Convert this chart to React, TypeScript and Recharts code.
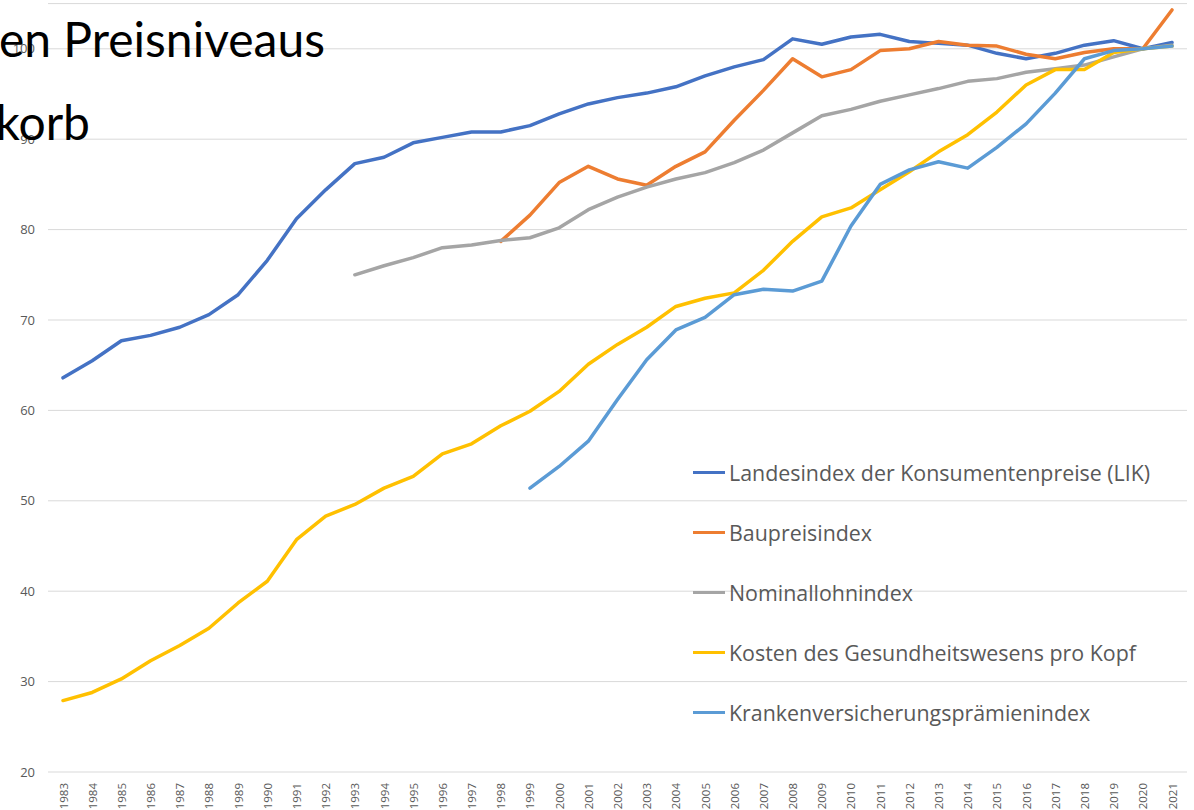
import { LineChart, Line, XAxis, YAxis, CartesianGrid, Legend } from "recharts";

const years = [
  "1983", "1984", "1985", "1986", "1987", "1988", "1989", "1990", "1991", "1992",
  "1993", "1994", "1995", "1996", "1997", "1998", "1999", "2000", "2001", "2002",
  "2003", "2004", "2005", "2006", "2007", "2008", "2009", "2010", "2011", "2012",
  "2013", "2014", "2015", "2016", "2017", "2018", "2019", "2020", "2021",
];

const lik = [
  63.6, 65.5, 67.7, 68.3, 69.2, 70.6, 72.8, 76.6, 81.2, 84.4,
  87.3, 88.0, 89.6, 90.2, 90.8, 90.8, 91.5, 92.8, 93.9, 94.6,
  95.1, 95.8, 97.0, 98.0, 98.8, 101.1, 100.5, 101.3, 101.6, 100.8,
  100.6, 100.4, 99.5, 98.9, 99.5, 100.4, 100.9, 100.0, 100.7,
];

// starts 1998
const baupreis = [
  null, null, null, null, null, null, null, null, null, null,
  null, null, null, null, null, 78.7, 81.6, 85.2, 87.0, 85.6,
  84.9, 87.0, 88.6, 92.1, 95.4, 98.9, 96.9, 97.7, 99.8, 100.0,
  100.8, 100.4, 100.3, 99.4, 98.9, 99.6, 100.0, 100.0, 104.3,
];

// starts 1993
const nominallohn = [
  null, null, null, null, null, null, null, null, null, null,
  75.0, 76.0, 76.9, 78.0, 78.3, 78.8, 79.1, 80.2, 82.2, 83.6,
  84.7, 85.6, 86.3, 87.4, 88.8, 90.7, 92.6, 93.3, 94.2, 94.9,
  95.6, 96.4, 96.7, 97.4, 97.8, 98.2, 99.1, 100.0, 100.4,
];

const gesundheit = [
  27.9, 28.8, 30.3, 32.3, 34.0, 35.9, 38.7, 41.1, 45.7, 48.3,
  49.6, 51.4, 52.7, 55.2, 56.3, 58.3, 59.9, 62.1, 65.1, 67.3,
  69.2, 71.5, 72.4, 73.0, 75.5, 78.7, 81.4, 82.4, 84.4, 86.4,
  88.6, 90.5, 93.0, 96.0, 97.7, 97.7, 99.6, 100.0, 100.3,
];

// starts 1999
const praemien = [
  null, null, null, null, null, null, null, null, null, null,
  null, null, null, null, null, null, 51.4, 53.8, 56.6, 61.2,
  65.6, 68.9, 70.3, 72.8, 73.4, 73.2, 74.3, 80.4, 85.0, 86.6,
  87.5, 86.8, 89.1, 91.7, 95.1, 98.9, 99.8, 100.0, 100.3,
];

const yTicks = [20, 30, 40, 50, 60, 70, 80, 90, 100];

const series = [
  { key: "lik", name: "Landesindex der Konsumentenpreise (LIK)", color: "#4472C4", values: lik },
  { key: "bau", name: "Baupreisindex", color: "#ED7D31", values: baupreis },
  { key: "lohn", name: "Nominallohnindex", color: "#A5A5A5", values: nominallohn },
  { key: "ges", name: "Kosten des Gesundheitswesens pro Kopf", color: "#FFC000", values: gesundheit },
  { key: "kv", name: "Krankenversicherungsprämienindex", color: "#5B9BD5", values: praemien },
];

const data = years.map((year, i) => {
  const row: Record<string, string | number | null> = { year };
  series.forEach((s) => {
    row[s.key] = s.values[i];
  });
  return row;
});

const FONT = "'Open Sans', sans-serif";
const TITLE_FONT = "Lato, sans-serif";

const YearTick = ({ x, y, payload }: any) => (
  <text
    x={x}
    y={y + 9}
    transform={`rotate(-90 ${x} ${y + 9})`}
    textAnchor="end"
    dominantBaseline="central"
    fill="#595959"
    fontSize={11.5}
    fontFamily={FONT}
  >
    {payload.value}
  </text>
);

// keep the series order of the reference (recharts sorts the payload by name)
const LegendBox = () => (
  <div style={{ fontFamily: FONT }}>
    {series.map((s) => (
      <div key={s.key} style={{ display: "flex", alignItems: "center", height: 60 }}>
        <span style={{ display: "inline-block", width: 32, height: 3, background: s.color, marginRight: 4 }} />
        <span style={{ color: "#595959", fontSize: 21.4, whiteSpace: "nowrap" }}>{s.name}</span>
      </div>
    ))}
  </div>
);

export default function App() {
  return (
    <div style={{ position: "fixed", top: 0, left: 0, width: 1194, height: 810, overflow: "hidden", background: "#fff" }}>
      <LineChart width={1194} height={810} data={data} margin={{ top: 3.6, right: 7, bottom: 0, left: 0 }}>
        <CartesianGrid vertical={false} stroke="#D9D9D9" strokeWidth={1} />
        <XAxis
          dataKey="year"
          interval={0}
          height={38}
          axisLine={false}
          tickLine={false}
          tickSize={0}
          padding={{ left: 15, right: 15 }}
          tick={<YearTick />}
        />
        <YAxis
          domain={[20, 105]}
          ticks={yTicks}
          width={48}
          axisLine={false}
          tickLine={false}
          tickSize={0}
          tickMargin={13}
          tick={{ fill: "#595959", fontSize: 13, fontFamily: FONT }}
        />
        <Legend
          layout="vertical"
          align="center"
          verticalAlign="middle"
          content={<LegendBox />}
          wrapperStyle={{ left: 693, top: 442, width: 495 }}
        />
        {series.map((s) => (
          <Line
            key={s.key}
            dataKey={s.key}
            name={s.name}
            stroke={s.color}
            strokeWidth={3.5}
            dot={false}
            activeDot={false}
            strokeLinejoin="round"
            strokeLinecap="round"
            isAnimationActive={false}
          />
        ))}
      </LineChart>
      <svg width={1194} height={810} style={{ position: "absolute", top: 0, left: 0, pointerEvents: "none" }}>
        <text x={325} y={57} textAnchor="end" fontSize={48} fontFamily={TITLE_FONT} fill="#000">
          en Preisniveaus
        </text>
        <text x={90} y={140} textAnchor="end" fontSize={48} fontFamily={TITLE_FONT} fill="#000">
          korb
        </text>
      </svg>
    </div>
  );
}
